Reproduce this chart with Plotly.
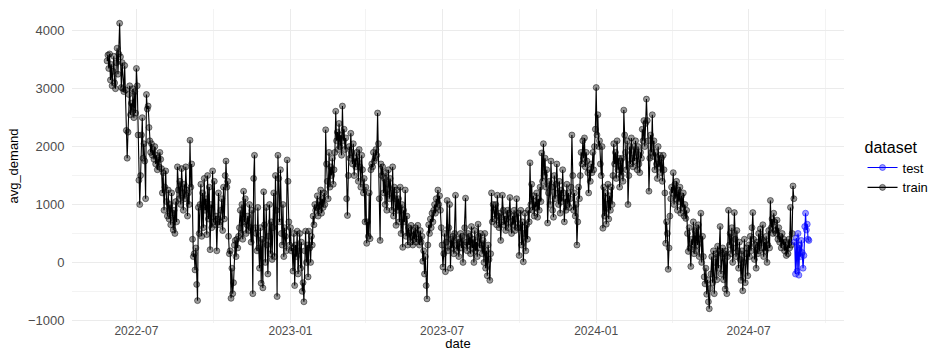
import pandas as pd
import plotly.graph_objects as go

# ---- data (daily avg_demand) ----
train_2022_05 = [3480, 3580, 3350, 3600, 3150]  # from 2022-05-27
train_2022_06 = [3420, 3050, 3300, 3560, 3100, 3000, 3450, 3700, 3250, 3600,
                 4130, 3550, 3020, 3450, 3000, 2950, 3400, 2980, 2280, 1800,
                 2250, 2900, 3050, 2550, 2750, 2600, 3000, 2500, 2950, 2580]
train_2022_07 = [3350, 3050, 2200, 1420, 1000, 1500, 2200, 2500, 1800, 2050,
                 1750, 1100, 2900, 2650, 2700, 2330, 2100, 1900, 2050, 1850,
                 1950, 1780, 2000, 1700, 1850, 1600, 1800, 1650, 1900, 1780, 1620]
train_2022_08 = [1200, 1550, 900, 1300, 1580, 1050, 800, 1250, 750, 1000,
                 650, 1200, 850, 560, 900, 500, 1050, 700, 1650, 1250,
                 1100, 1400, 1000, 1620, 1200, 900, 1350, 1100, 1650, 1250, 800]
train_2022_09 = [1200, 1000, 2110, 1300, 1700, 400, 100, 150, -130, 250,
                 -380, -660, 950, 500, 1000, 1350, 450, 1200, 600, 1450,
                 900, 1100, 480, 1500, 750, 1300, 220, 1000, 600, 1580]
train_2022_10 = [700, 1400, 650, 800, 200, 750, 1200, 650, 700, 900,
                 1100, 550, 1300, 750, 1500, 1750, 1300, 1400, 450, 150,
                 200, -620, -100, -540, -350, 300, 380, 100, 400, 250, 450]
train_2022_11 = [600, 900, 500, 1000, 400, 1230, 700, 1100, 500, 650,
                 800, 550, 1000, 600, 350, 900, -540, 1450, 1850, 600,
                 500, 200, 950, 250, -100, 600, -360, 400, -440, 1220]
train_2022_12 = [650, 0, 950, 300, -200, 450, 1000, 150, 700, 50,
                 600, 1200, 100, 1500, 900, -590, 1850, 1450, 700, 1600,
                 500, 300, 1000, 100, 600, 450, 200, 1770, 1400, 700, 300]
train_2023_01 = [600, 200, 250, -150, 500, -400, 300, 100, 540, -200,
                 200, 500, -100, 350, -500, -350, -680, 200, 540, 0,
                 300, -250, 540, 250, 0, 450, 300, 800, 650, 1000, 900]
train_2023_02 = [950, 1150, 800, 1050, 900, 1250, 850, 1100, 950, 1200,
                 1000, 2290, 1700, 1400, 1100, 1900, 1300, 1650, 1500, 1800,
                 1350, 1600, 1900, 2610, 2100, 2250, 1950, 2400]
train_2023_03 = [2000, 2200, 1850, 2700, 2100, 2300, 1950, 2150, 1100, 810,
                 1500, 2000, 1800, 2230, 1900, 1700, 2050, 1500, 1800, 1650,
                 1900, 1750, 1400, 1950, 1650, 1300, 1850, 1600, 1200, 1450, 700]
train_2023_04 = [1300, 330, 700, 450, 1200, 410, 1600, 1700, 1650, 1900,
                 1750, 1800, 1950, 1850, 2580, 2050, 1100, 380, 1700, 1500,
                 1650, 1200, 1450, 1000, 1550, 900, 1350, 1600, 1100, 1450]
train_2023_05 = [1200, 900, 1650, 800, 1300, 1100, 640, 1250, 900, 1100,
                 700, 1300, 500, 1000, 260, 900, 700, 1250, 450, 800,
                 300, 600, 500, 350, 640, 450, 300, 550, 400, 600, 350]
train_2023_06 = [500, 640, 400, 300, 550, 350, 450, 20, 200, -200,
                 100, -400, -630, 300, 650, 500, 750, 600, 850, 700,
                 900, 1000, 850, 1100, 950, 1250, 1000, 1150, 900, 600]
train_2023_07 = [300, -80, 150, 500, -160, 350, 1070, 200, 600, 1000,
                 -100, 400, 250, 450, 150, 500, 1160, 300, 200, 400,
                 100, 350, 500, 250, 450, 0, 300, 600, 1110, 350, 200]
train_2023_08 = [500, 300, 450, 150, 620, 250, 400, 0, 550, 200,
                 350, 100, 660, 450, 250, 500, 300, 150, 380, 0,
                 500, -100, 200, -230, 300, 50, -310, 150, 1200, 700, 1000]
train_2023_09 = [900, 750, 1000, 650, 1160, 800, 600, 850, 380, 700,
                 1160, 900, 650, 800, 550, 750, 900, 600, 850, 1120,
                 700, 500, 800, 650, 900, 550, 750, 1100, 600, 850]
train_2023_10 = [120, 600, 900, 300, 700, 10, 500, 850, 200, 650,
                 400, 900, 700, 1720, 1000, 1350, 900, 1150, 800, 1050,
                 950, 1200, 780, 1100, 900, 1300, 1050, 1890, 1400, 2050, 1500]
train_2023_11 = [1800, 1300, 1600, 680, 1200, 1400, 1000, 1750, 1300, 900,
                 780, 1500, 1100, 1350, 1700, 1200, 1000, 1400, 850, 1250,
                 1050, 1600, 1200, 700, 1100, 900, 1350, 1000, 1200, 950]
train_2023_12 = [1100, 1300, 2200, 1500, 900, 1200, 800, 1000, 300, 700,
                 1300, 1100, 1500, 1900, 1700, 2100, 1800, 2150, 1650, 1900,
                 1750, 1550, 1200, 1600, 1400, 1700, 1550, 1900, 1600, 2000, 2300]
train_2024_01 = [3020, 2200, 2550, 2000, 2100, 1700, 1500, 2000, 590, 1300,
                 800, 1200, 660, 1000, 1350, 750, 1150, 900, 1300, 1000,
                 1500, 2050, 1700, 1900, 1450, 2100, 1600, 1800, 1300, 1750, 1500]
train_2024_02 = [1800, 1400, 2630, 2200, 1900, 1600, 2100, 1000, 1500, 2000,
                 1700, 2150, 1800, 1650, 2000, 1750, 2100, 1900, 1600, 2000,
                 1700, 1550, 1900, 1800, 2300, 2100, 2450, 2000, 2400]
train_2024_03 = [2820, 2450, 2100, 1230, 1800, 2200, 1900, 2550, 1830, 2100,
                 1600, 1900, 1700, 1450, 2000, 1650, 1850, 1550, 1800, 1400,
                 1850, 1600, 1200, 330, 700, 500, -120, 250, 800, 1100, 1300]
train_2024_04 = [1200, 1550, 1000, 1350, 1100, 1400, 900, 1250, 1050, 1300,
                 850, 1150, 950, 1200, 800, 1000, 760, 900, 500, 190,
                 600, 250, -70, 400, 300, 700, 150, 550, 200, 600]
train_2024_05 = [300, 650, 100, 400, 850, 0, 450, 100, -250, -370,
                 -100, -550, -300, -680, -800, -450, -200, 100, -350, 200,
                 -540, 0, 150, -300, 280, -100, 200, 620, -200, 150, 250]
train_2024_06 = [-300, 150, -460, 200, -540, 100, 900, 300, 500, 150,
                 600, 0, 250, 860, 400, 100, 550, 200, -100, 350,
                 50, -310, 200, -490, 0, 400, -350, 150, 250, -230]
train_2024_07 = [300, 100, 450, 200, 600, 860, 400, 50, 300, -100,
                 350, 150, 500, 200, 580, 250, 400, 650, 100, 350,
                 200, 450, 0, 300, 550, 250, 1070, 600, 750, 500, 850]
train_2024_08 = [700, 550, 500, 730, 400, 600, 350, 450, 250, 500,
                 300, 400, 200, 350, 120, 300, 150, 400, 250, 950,
                 300, 500, 1320, 1100]
test_2024 = [350, -200, 420, -150, 500, -220, 300, 100, 380, 170,
             -100, 120, 620, 850, 560, 660, 400, 380]  # from 2024-08-25

train_starts = ["2022-05-27", "2022-06-01", "2022-07-01", "2022-08-01", "2022-09-01",
                "2022-10-01", "2022-11-01", "2022-12-01", "2023-01-01", "2023-02-01",
                "2023-03-01", "2023-04-01", "2023-05-01", "2023-06-01", "2023-07-01",
                "2023-08-01", "2023-09-01", "2023-10-01", "2023-11-01", "2023-12-01",
                "2024-01-01", "2024-02-01", "2024-03-01", "2024-04-01", "2024-05-01",
                "2024-06-01", "2024-07-01", "2024-08-01"]
train_blocks = [train_2022_05, train_2022_06, train_2022_07, train_2022_08, train_2022_09,
                train_2022_10, train_2022_11, train_2022_12, train_2023_01, train_2023_02,
                train_2023_03, train_2023_04, train_2023_05, train_2023_06, train_2023_07,
                train_2023_08, train_2023_09, train_2023_10, train_2023_11, train_2023_12,
                train_2024_01, train_2024_02, train_2024_03, train_2024_04, train_2024_05,
                train_2024_06, train_2024_07, train_2024_08]
test_start = "2024-08-25"

# ---- build series ----
train_dates, train_vals = [], []
for s, vals in zip(train_starts, train_blocks):
    train_dates += list(pd.date_range(s, periods=len(vals), freq="D"))
    train_vals += vals
test_dates = list(pd.date_range(test_start, periods=len(test_2024), freq="D"))

all_dates = train_dates + test_dates
all_vals = train_vals + test_2024
dmin, dmax = min(all_dates), max(all_dates)
pad = (dmax - dmin) * 0.05
vmin, vmax = min(all_vals), max(all_vals)
vpad = (vmax - vmin) * 0.05

FONT = "Liberation Sans, Arial, Helvetica, sans-serif"

fig = go.Figure()
fig.add_trace(go.Scatter(
    x=train_dates, y=train_vals, mode="lines+markers", name="train", legendrank=2,
    line=dict(color="black", width=1.1),
    marker=dict(size=6, color="rgba(0,0,0,0.4)", line=dict(width=0.8, color="rgba(0,0,0,0.6)")),
))
fig.add_trace(go.Scatter(
    x=test_dates, y=test_2024, mode="lines+markers", name="test", legendrank=1,
    line=dict(color="#0000FF", width=1.1),
    marker=dict(size=6, color="rgba(0,0,255,0.4)", line=dict(width=0.8, color="rgba(0,0,255,0.6)")),
))

fig.update_layout(
    width=935, height=351,
    margin=dict(l=72, r=91, t=9, b=28, autoexpand=False),
    plot_bgcolor="white", paper_bgcolor="white",
    font=dict(family=FONT, color="black"),
    legend=dict(
        title=dict(text="dataset", font=dict(size=16, color="black")),
        font=dict(size=13, color="black"),
        x=1.024, xanchor="left", y=0.496, yanchor="middle",
        itemwidth=30, bgcolor="rgba(0,0,0,0)",
    ),
)
fig.update_xaxes(
    range=[dmin - pad, dmax + pad], type="date",
    tickformat="%Y-%m", dtick="M6", tick0="2022-07-01",
    showgrid=True, gridcolor="#EBEBEB", gridwidth=1,
    minor=dict(dtick="M3", tick0="2022-07-01", showgrid=True, gridcolor="#F3F3F3", gridwidth=0.6),
    zeroline=False, showline=False,
    ticks="", ticklabelstandoff=-1,
    tickfont=dict(size=12, color="#4D4D4D"),
    title=dict(text="date", font=dict(size=13, color="black"), standoff=0),
    automargin=False,
)
fig.update_yaxes(
    range=[vmin - vpad, vmax + vpad],
    dtick=1000, tick0=0,
    showgrid=True, gridcolor="#EBEBEB", gridwidth=1,
    minor=dict(dtick=500, tick0=0, showgrid=True, gridcolor="#F3F3F3", gridwidth=0.6),
    zeroline=False, showline=False,
    ticks="outside", ticklen=4, tickcolor="rgba(0,0,0,0)",
    tickfont=dict(size=13, color="#4D4D4D"),
    title=dict(text="avg_demand", font=dict(size=13, color="black"), standoff=6),
    automargin=False,
)

fig.write_html(
    "out.html",
    config={"displayModeBar": False},
    post_script="document.body.style.margin='0px';document.body.style.overflow='hidden';",
)
